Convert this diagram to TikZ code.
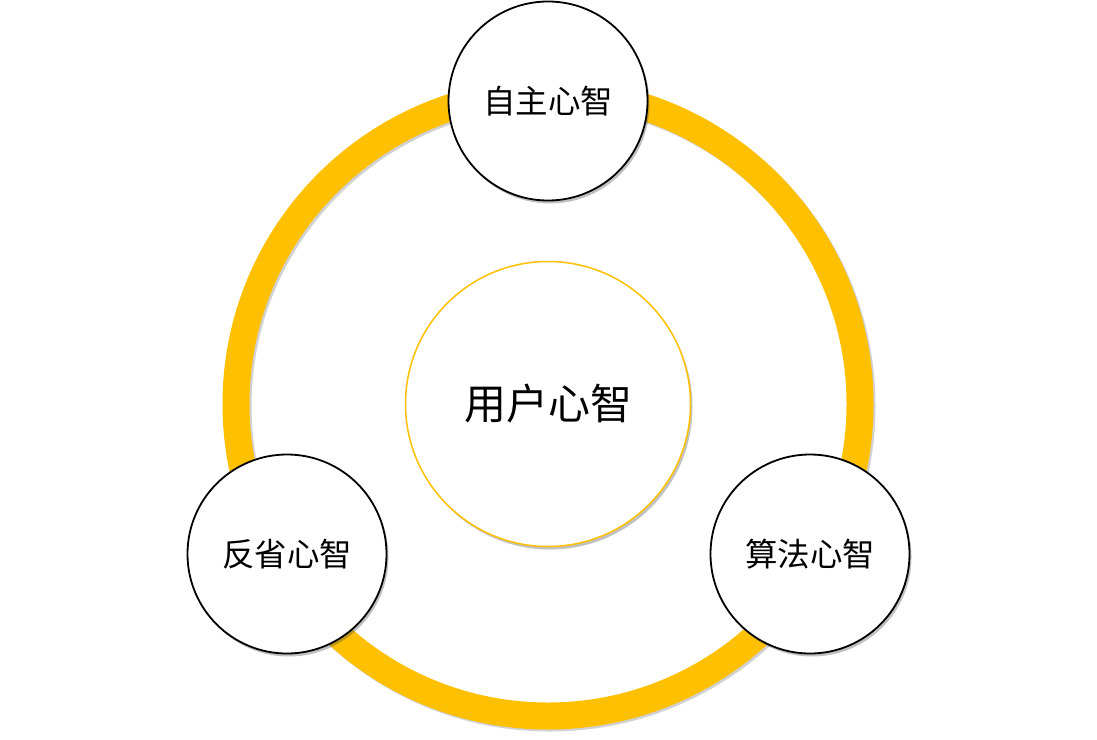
\documentclass[tikz,border=0pt]{standalone}
\usepackage{fontspec}
\newfontfamily\cjk{Noto Sans CJK SC}
\usetikzlibrary{shadows}
\definecolor{gold}{HTML}{FFC000}
\tikzset{
  x=1pt, y=-1pt,
  mind/.style={circle, draw=black, line width=1.8pt, fill=white, minimum size=199pt, inner sep=0pt,
    font=\cjk\fontsize{32.5}{38}\selectfont,
    drop shadow={shadow xshift=2pt, shadow yshift=-3pt, opacity=0.35, fill=black!70}},
  core/.style={circle, draw=gold, line width=1.5pt, fill=white, minimum size=285pt, inner sep=0pt,
    font=\cjk\fontsize{42}{48}\selectfont,
    drop shadow={shadow xshift=2pt, shadow yshift=-3pt, opacity=0.35, fill=black!70}},
  ring/.style={draw=gold, line width=27pt},
  ringshadow/.style={draw=black!60, line width=27pt, opacity=0.3}
}
\begin{document}
\begin{tikzpicture}
\useasboundingbox (0,0) rectangle (1097,739);
\coordinate (c) at (548,404);
\draw[ringshadow] (550,406) circle[radius=312];
\draw[ring] (c) circle[radius=312];
\node[core] (user) at (c) {用户心智};
\node[mind] (auto) at (548,101) {自主心智};
\node[mind] (refl) at (287,554) {反省心智};
\node[mind] (algo) at (810,554) {算法心智};
\end{tikzpicture}
\end{document}
